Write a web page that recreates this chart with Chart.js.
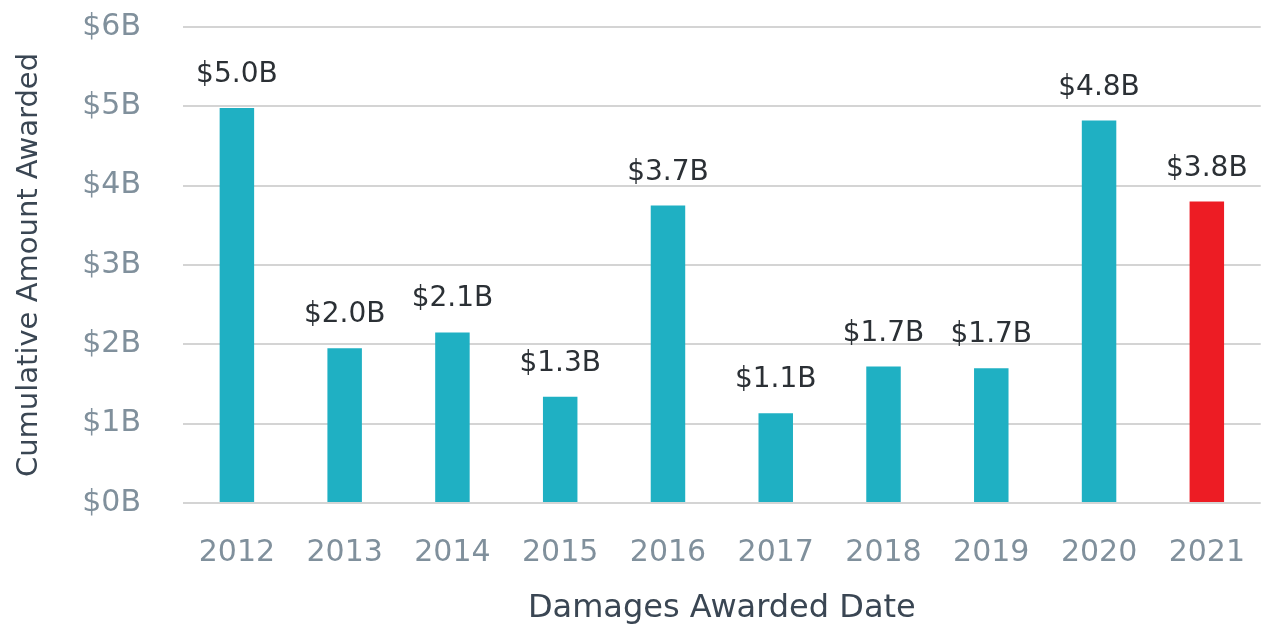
<!DOCTYPE html>
<html>
<head>
<meta charset="utf-8">
<script src="https://cdn.jsdelivr.net/npm/chart.js@4/dist/chart.umd.min.js"></script>
<style>
  html, body { margin: 0; padding: 0; background: #fff; }
  #wrap { width: 1269px; height: 628px; }
</style>
</head>
<body>
<div id="wrap"><canvas id="damagesChart"></canvas></div>
<script>
const years = ['2012', '2013', '2014', '2015', '2016', '2017', '2018', '2019', '2020', '2021'];
const amounts = [4.98, 1.95, 2.15, 1.34, 3.75, 1.13, 1.72, 1.70, 4.82, 3.80];
const amountLabels = ['$5.0B', '$2.0B', '$2.1B', '$1.3B', '$3.7B', '$1.1B', '$1.7B', '$1.7B', '$4.8B', '$3.8B'];
const barColors = ['#1fb0c3', '#1fb0c3', '#1fb0c3', '#1fb0c3', '#1fb0c3', '#1fb0c3', '#1fb0c3', '#1fb0c3', '#1fb0c3', '#ed1c24'];

const FONT = '"DejaVu Sans", Verdana, sans-serif';

// value labels above the bars (no datalabels plugin available)
const valueLabels = {
  id: 'valueLabels',
  afterDatasetsDraw(chart) {
    const ctx = chart.ctx;
    const meta = chart.getDatasetMeta(0);
    ctx.save();
    ctx.font = '28px ' + FONT;
    ctx.fillStyle = '#2b3035';
    ctx.textAlign = 'center';
    ctx.textBaseline = 'alphabetic';
    meta.data.forEach((bar, i) => {
      ctx.fillText(amountLabels[i], bar.x, bar.y - 26);
    });
    ctx.restore();
  }
};

const data = {
  labels: years,
  datasets: [{
    label: 'Cumulative Amount Awarded',
    data: amounts,
    backgroundColor: barColors,
    barPercentage: 0.32,
    categoryPercentage: 1.0
  }]
};

const config = {
  type: 'bar',
  data: data,
  plugins: [valueLabels],
  options: {
    responsive: true,
    maintainAspectRatio: false,
    animation: false,
    layout: { padding: { top: 27, right: 0, left: 12, bottom: 0 } },
    plugins: {
      legend: { display: false },
      tooltip: { enabled: false }
    },
    scales: {
      x: {
        grid: { display: false },
        border: { display: false },
        ticks: {
          color: '#80909c',
          font: { size: 30, family: FONT },
          padding: 24
        },
        title: {
          display: true,
          text: 'Damages Awarded Date',
          color: '#3a4653',
          font: { size: 32, family: FONT },
          padding: { top: 10, bottom: 0 }
        },
        afterFit(scale) { scale.height = 125; }
      },
      y: {
        min: 0,
        max: 6,
        border: { display: false },
        grid: { color: '#d4d4d4', lineWidth: 2, drawTicks: false },
        ticks: {
          stepSize: 1,
          color: '#80909c',
          font: { size: 30, family: FONT },
          padding: 42,
          callback: v => '$' + v + 'B'
        },
        title: {
          display: true,
          text: 'Cumulative Amount Awarded',
          color: '#3a4653',
          font: { size: 29, family: FONT },
          padding: { top: 0, bottom: 4 }
        },
        afterFit(scale) {
          scale.width = 171;
          scale.paddingTop = 0;
          scale.paddingBottom = 0;
        }
      }
    }
  }
};

const damagesChart = new Chart(document.getElementById('damagesChart'), config);
</script>
</body>
</html>
